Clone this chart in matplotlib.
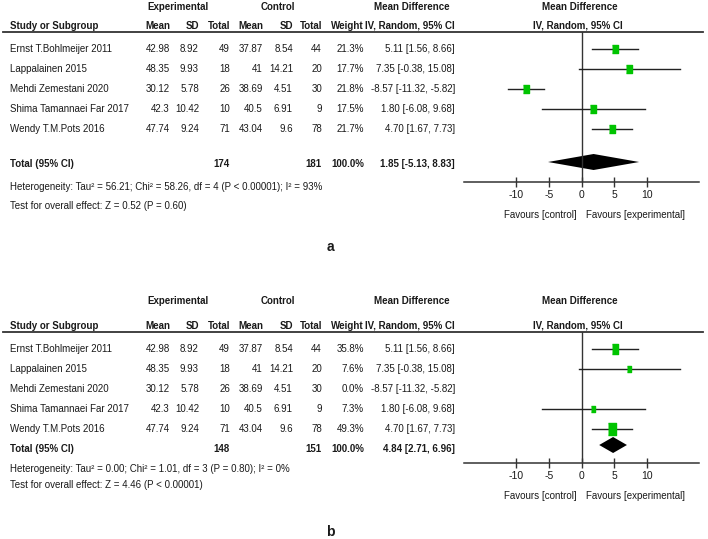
import matplotlib.pyplot as plt
from matplotlib.patches import Polygon

plt.rcParams["font.family"] = ["Liberation Sans", "DejaVu Sans"]

studies = ["Ernst T.Bohlmeijer 2011", "Lappalainen 2015", "Mehdi Zemestani 2020",
           "Shima Tamannaei Far 2017", "Wendy T.M.Pots 2016"]
exp_mean = [42.98, 48.35, 30.12, 42.3, 47.74]
exp_sd = [8.92, 9.93, 5.78, 10.42, 9.24]
exp_n = [49, 18, 26, 10, 71]
ctl_mean = [37.87, 41, 38.69, 40.5, 43.04]
ctl_sd = [8.54, 14.21, 4.51, 6.91, 9.6]
ctl_n = [44, 20, 30, 9, 78]
md = [5.11, 7.35, -8.57, 1.80, 4.70]
ci_lo = [1.56, -0.38, -11.32, -6.08, 1.67]
ci_hi = [8.66, 15.08, -5.82, 9.68, 7.73]

weight_a = [21.3, 17.7, 21.8, 17.5, 21.7]
total_a = (174, 181, 1.85, -5.13, 8.83)
het_a = "Heterogeneity: Tau² = 56.21; Chi² = 58.26, df = 4 (P < 0.00001); I² = 93%"
test_a = "Test for overall effect: Z = 0.52 (P = 0.60)"

weight_b = [35.8, 7.6, 0.0, 7.3, 49.3]
total_b = (148, 151, 4.84, 2.71, 6.96)
het_b = "Heterogeneity: Tau² = 0.00; Chi² = 1.01, df = 3 (P = 0.80); I² = 0%"
test_b = "Test for overall effect: Z = 4.46 (P < 0.00001)"

ticks = [-10, -5, 0, 5, 10]

W, H = 708, 539
fig = plt.figure(figsize=(W / 100, H / 100), dpi=100)
FS = 7
TXT = "#1a1a1a"
GREEN = "#00c400"


def put(x, y, s, ha="left", bold=False, size=FS):
    fig.text(x / W, 1 - y / H, s, ha=ha, va="center", fontsize=size, color=TXT,
             fontweight="bold" if bold else "normal")


def fmt_ci(m, lo, hi):
    return "{:.2f} [{:.2f}, {:.2f}]".format(m, lo, hi)


# right edges of the numeric columns
cols = [170, 199, 230, 263, 293, 322, 364, 455]


def panel(lay, weights, total, het, test, label):
    put(178, lay["h1"], "Experimental", ha="center", bold=True)
    put(278, lay["h1"], "Control", ha="center", bold=True)
    put(412, lay["h1"], "Mean Difference", ha="center", bold=True)
    put(580, lay["h1"], "Mean Difference", ha="center", bold=True)
    put(10, lay["h2"], "Study or Subgroup", bold=True)
    for x, s in zip(cols, ["Mean", "SD", "Total", "Mean", "SD", "Total", "Weight",
                           "IV, Random, 95% CI"]):
        put(x, lay["h2"], s, ha="right", bold=True)
    put(578, lay["h2"], "IV, Random, 95% CI", ha="center", bold=True)
    fig.add_artist(plt.Line2D([3 / W, 703 / W], [1 - lay["line"] / H] * 2,
                              color="#333333", lw=1.3))

    for i, name in enumerate(studies):
        y = lay["row0"] + 20 * i
        put(10, y, name)
        vals = ["{:g}".format(exp_mean[i]), "{:g}".format(exp_sd[i]), str(exp_n[i]),
                "{:g}".format(ctl_mean[i]), "{:g}".format(ctl_sd[i]), str(ctl_n[i]),
                "{:.1f}%".format(weights[i]), fmt_ci(md[i], ci_lo[i], ci_hi[i])]
        for x, s in zip(cols, vals):
            put(x, y, s, ha="right")

    put(10, lay["tot"], "Total (95% CI)", bold=True)
    put(cols[2], lay["tot"], str(total[0]), ha="right", bold=True)
    put(cols[5], lay["tot"], str(total[1]), ha="right", bold=True)
    put(cols[6], lay["tot"], "100.0%", ha="right", bold=True)
    put(cols[7], lay["tot"], fmt_ci(*total[2:]), ha="right", bold=True)
    put(10, lay["het"], het)
    put(10, lay["test"], test)
    put(330, lay["lab"], label, ha="center", bold=True, size=10)

    # forest axes: top at header line, bottom at the x axis
    top, bot = lay["line"], lay["axis"]
    ax = fig.add_axes([464 / W, 1 - bot / H, 235 / W, (bot - top) / H])
    ax.set_xlim(-18, 18)
    ax.set_ylim((bot - lay["row0"]) / 20, (top - lay["row0"]) / 20)
    for s in ["top", "left", "right"]:
        ax.spines[s].set_visible(False)
    ax.spines["bottom"].set_color("#333333")
    ax.spines["bottom"].set_linewidth(1.1)
    ax.set_yticks([])
    ax.set_xticks(ticks)
    ax.set_xticklabels([str(t) for t in ticks])
    ax.tick_params(axis="x", direction="inout", length=7, width=1, color="#333333",
                   pad=2, labelsize=FS + 0.5, labelcolor=TXT)
    ax.patch.set_visible(False)
    ax.axvline(0, color="#333333", lw=1)

    rect = [(-0.32, -0.5), (0.32, -0.5), (0.32, 0.5), (-0.32, 0.5)]
    for i in range(len(studies)):
        if weights[i] <= 0:
            continue
        ax.plot([ci_lo[i], ci_hi[i]], [i, i], color="#222222", lw=1)
        ax.plot(md[i], i, marker=rect, ms=1.5 * weights[i] ** 0.5 * 0.72 + 1.2,
                color=GREEN, mec=GREEN, lw=0)

    yt = (lay["dia"] - lay["row0"]) / 20
    m, lo, hi = total[2:]
    ax.add_patch(Polygon([(lo, yt), (m, yt - 0.4), (hi, yt), (m, yt + 0.4)],
                         closed=True, color="black", lw=0))
    ax.annotate("Favours [control]", xy=(0, 0), xycoords=("data", "axes fraction"),
                xytext=(-5, -lay["fav"]), textcoords="offset pixels",
                ha="right", va="center", fontsize=FS, color=TXT)
    ax.annotate("Favours [experimental]", xy=(0, 0), xycoords=("data", "axes fraction"),
                xytext=(5, -lay["fav"]), textcoords="offset pixels",
                ha="left", va="center", fontsize=FS, color=TXT)


lay_a = dict(h1=7, h2=26, line=32, row0=49, tot=164, dia=162, het=187, test=206,
             axis=182, fav=33, lab=247)
lay_b = dict(h1=301, h2=326, line=332, row0=349, tot=449, dia=445, het=469, test=485,
             axis=463, fav=33, lab=532)

panel(lay_a, weight_a, total_a, het_a, test_a, "a")
panel(lay_b, weight_b, total_b, het_b, test_b, "b")

plt.savefig("out.png", dpi=100)
